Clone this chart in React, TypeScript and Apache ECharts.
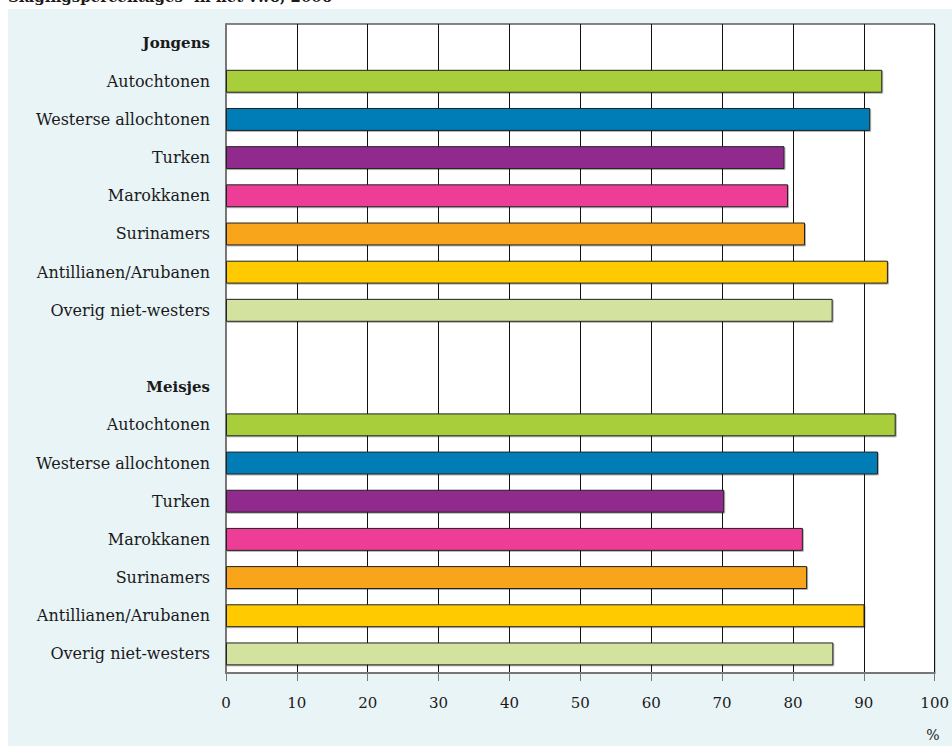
import React, { useEffect, useRef } from "react";
import * as echarts from "echarts";

const groups = ["Jongens", "Meisjes"];
const origins = [
  "Autochtonen",
  "Westerse allochtonen",
  "Turken",
  "Marokkanen",
  "Surinamers",
  "Antillianen/Arubanen",
  "Overig niet-westers",
];
const colors = ["#A8CE3A", "#007DB7", "#912B8D", "#EE3E96", "#F8A51D", "#FFCB05", "#D3E29E"];
const jongens = [92.6, 90.9, 78.8, 79.3, 81.7, 93.4, 85.6];
const meisjes = [94.5, 92.0, 70.3, 81.4, 82.0, 90.1, 85.7];
const xTicks = [0, 10, 20, 30, 40, 50, 60, 70, 80, 90, 100];

const FONT = "'DejaVu Serif', 'Liberation Serif', serif";

export default function App() {
  const ref = useRef<HTMLDivElement>(null);
  useEffect(() => {
    if (!ref.current) return;
    const chart = echarts.init(ref.current, undefined, { renderer: "svg" });

    const cats: string[] = [];
    const data: any[] = [];
    const groupVals = [jongens, meisjes];
    groups.forEach((g, gi) => {
      if (gi > 0) {
        cats.push(" ");
        data.push("-");
      }
      cats.push(g);
      data.push("-");
      origins.forEach((o, i) => {
        cats.push(o + "\u200b".repeat(gi));
        data.push({ value: groupVals[gi][i], itemStyle: { color: colors[i] } });
      });
    });

    chart.setOption({
      animation: false,
      graphic: [
        {
          type: "rect",
          z: -10,
          silent: true,
          shape: { x: 8, y: 9, width: 944, height: 737 },
          style: { fill: "#E9F4F7" },
        },
        {
          type: "text",
          x: 8,
          y: -3,
          style: {
            text: "{t|Slagingspercentages}{s|a}{t| in het vwo, 2006}",
            verticalAlign: "middle",
            rich: {
              t: { fontFamily: FONT, fontSize: 15, fontWeight: "bold", fill: "#1a1a1a" },
              s: { fontFamily: FONT, fontSize: 9, fontWeight: "bold", fill: "#1a1a1a", padding: [0, 0, 8, 0] },
            },
          },
        },
        {
          type: "text",
          x: 933,
          y: 735,
          style: {
            text: "%",
            fontFamily: FONT,
            fontSize: 14,
            fill: "#1a1a1a",
            align: "center",
            verticalAlign: "middle",
          },
        },
      ],
      grid: {
        left: 226,
        right: 14,
        top: 24,
        bottom: 73,
        show: true,
        backgroundColor: "#ffffff",
        borderColor: "#111",
        borderWidth: 1,
      },
      xAxis: {
        type: "value",
        min: xTicks[0],
        max: xTicks[xTicks.length - 1],
        interval: 10,
        axisLine: { show: true, lineStyle: { color: "#777", width: 2 } },
        axisTick: { show: true, length: 8, lineStyle: { color: "#777", width: 1 } },
        splitLine: { show: true, lineStyle: { color: "#111", width: 1 } },
        axisLabel: {
          margin: 22,
          fontFamily: FONT,
          fontSize: 15,
          color: "#1a1a1a",
        },
      },
      yAxis: {
        type: "category",
        inverse: true,
        data: cats,
        axisLine: { show: true, lineStyle: { color: "#777", width: 2 } },
        axisTick: { show: false },
        axisLabel: {
          margin: 16,
          fontFamily: FONT,
          fontSize: 16,
          color: "#1a1a1a",
          formatter: (v: string) => (groups.includes(v) ? `{b|${v}}` : v.replace(/\u200b/g, "")),
          rich: {
            b: { fontFamily: FONT, fontSize: 15, fontWeight: "bold", color: "#1a1a1a" },
          },
        },
      },
      series: [
        {
          type: "bar",
          data,
          barCategoryGap: "40%",
          itemStyle: {
            borderColor: "#222",
            borderWidth: 1,
            shadowColor: "rgba(0,0,0,0.3)",
            shadowOffsetX: 1,
            shadowOffsetY: 1,
            shadowBlur: 1,
          },
          emphasis: { disabled: true },
        },
      ],
    });
    return () => chart.dispose();
  }, []);
  return (
    <div
      ref={ref}
      style={{ position: "absolute", left: 0, top: 0, width: 952, height: 746 }}
    />
  );
}
